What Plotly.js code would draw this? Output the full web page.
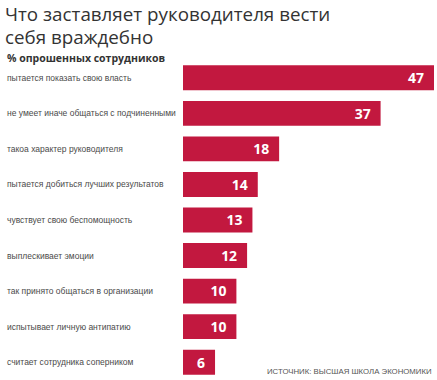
<!DOCTYPE html>
<html>
<head>
<meta charset="utf-8">
<script src="https://cdn.plot.ly/plotly-3.0.1.min.js"></script>
<style>html,body{margin:0;padding:0;background:#fff}#chart{width:437px;height:380px}</style>
</head>
<body>
<div id="chart"></div>
<script>
const categories = [
  "пытается показать свою власть",
  "не умеет иначе общаться с подчиненными",
  "такоа характер руководителя",
  "пытается добиться лучших результатов",
  "чувствует свою беспомощность",
  "выплескивает эмоции",
  "так принято общаться в организации",
  "испытывает личную антипатию",
  "считает сотрудника соперником"
];
const values = [47, 37, 18, 14, 13, 12, 10, 10, 6];
const titleLines = ["Что заставляет руководителя вести", "себя враждебно"];
const subtitleText = "% опрошенных сотрудников";
const sourceText = "ИСТОЧНИК: ВЫСШАЯ ШКОЛА ЭКОНОМИКИ";

const trace = {
  type: "bar",
  orientation: "h",
  x: values,
  y: categories,
  texttemplate: "%{x}\u2002",
  textposition: "inside",
  insidetextanchor: "end",
  textangle: 0,
  textfont: {family: "Open Sans, DejaVu Sans, sans-serif", size: 17, color: "#ffffff", weight: 700},
  marker: {color: "#C2183F", line: {width: 0}},
  hoverinfo: "none"
};

const labelAnnotations = categories.map(c => ({
  text: c, x: 0, xref: "paper", y: c, yref: "y",
  xanchor: "left", yanchor: "middle", xshift: -178, showarrow: false,
  font: {family: "Liberation Sans, Arial, sans-serif", size: 8.5, color: "#4a4a4a"}
}));

const titleShifts = [46, 23];
const titleAnnotations = titleLines.map((t, i) => ({
  text: t, x: 0, xref: "paper", xanchor: "left", align: "left",
  y: 1, yref: "paper", yanchor: "middle", showarrow: false, xshift: -180, yshift: titleShifts[i],
  font: {family: "Open Sans, sans-serif", size: 18.8, color: "#333333"}
}));

const layout = {
  width: 437, height: 380,
  margin: {l: 183, r: 3, t: 60, b: 0},
  paper_bgcolor: "#ffffff", plot_bgcolor: "#ffffff",
  showlegend: false,
  bargap: 0.3,
  xaxis: {range: [0, 47], visible: false, fixedrange: true},
  yaxis: {autorange: "reversed", showticklabels: false, showgrid: false, zeroline: false, showline: false, ticks: ""},
  annotations: labelAnnotations.concat(titleAnnotations, [
    {text: "<b>" + subtitleText + "</b>", x: 0, xref: "paper", xanchor: "left",
     y: 1, yref: "paper", yanchor: "middle", showarrow: false, xshift: -178, yshift: 2,
     font: {family: "Open Sans, sans-serif", size: 10.5, color: "#333333"}},
    {text: sourceText, x: 1, xref: "paper", xanchor: "right",
     y: 0, yref: "paper", yanchor: "bottom", showarrow: false, yshift: 2,
     font: {family: "Liberation Sans, Arial, sans-serif", size: 7.8, color: "#555555"}}
  ])
};

Plotly.newPlot("chart", [trace], layout, {displayModeBar: false, staticPlot: true});
</script>
</body>
</html>
